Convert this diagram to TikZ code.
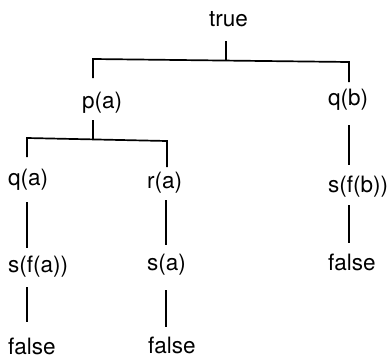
\documentclass[tikz,border=0pt]{standalone}
\usepackage{fontspec}
\setmainfont{TeX Gyre Heros}
\begin{document}
\begin{tikzpicture}[x=1pt,y=-1pt]
\tikzset{
  lbl/.style={anchor=base west, inner sep=0pt, font=\fontsize{22.5}{27}\selectfont},
  edge/.style={line width=1.7pt, line join=miter, line cap=butt}
}
\useasboundingbox (0,0) rectangle (390,359);

% formulas of the tree
\node[lbl] (true) at (209,26)  {true};
\node[lbl] (pa)   at (82,108)  {p(a)};
\node[lbl] (qb)   at (328,105) {q(b)};
\node[lbl] (qa)   at (8,185)   {q(a)};
\node[lbl] (ra)   at (147,188) {r(a)};
\node[lbl] (sfb)  at (328,192) {s(f(b))};
\node[lbl] (sfa)  at (8,272)   {s(f(a))};
\node[lbl] (sa)   at (147,270) {s(a)};
\node[lbl] (f3)   at (328,270) {false};
\node[lbl] (f1)   at (8,354)   {false};
\node[lbl] (f2)   at (148,353) {false};

% end points of the branches
\coordinate (t0) at (226,41);   \coordinate (t1) at (226,60);
\coordinate (tl) at (93,59);    \coordinate (tr) at (349,62);
\coordinate (tl1) at (93,78);   \coordinate (tr1) at (349,82);
\coordinate (p0) at (93,120);   \coordinate (p1) at (93,139);
\coordinate (pl) at (27,138);   \coordinate (pr) at (167,141);
\coordinate (pl1) at (27,157);  \coordinate (pr1) at (167,167);
\coordinate (qb0) at (349,125); \coordinate (qb1) at (349,165);
\coordinate (a0) at (27,202);   \coordinate (a1) at (27,248);
\coordinate (a2) at (27,287);   \coordinate (a3) at (27,322);
\coordinate (b0) at (166,200);  \coordinate (b1) at (166,245);
\coordinate (b2) at (166,290);  \coordinate (b3) at (166,327);
\coordinate (c0) at (349,205);  \coordinate (c1) at (349,243);

% branches
\draw[edge] (t0) -- (t1);
\draw[edge] (tl1) -- (tl) -- (tr) -- (tr1);
\draw[edge] (p0) -- (p1);
\draw[edge] (pl1) -- (pl) -- (pr) -- (pr1);
\draw[edge] (qb0) -- (qb1);
\draw[edge] (a0) -- (a1);
\draw[edge] (a2) -- (a3);
\draw[edge] (b0) -- (b1);
\draw[edge] (b2) -- (b3);
\draw[edge] (c0) -- (c1);
\end{tikzpicture}
\end{document}
